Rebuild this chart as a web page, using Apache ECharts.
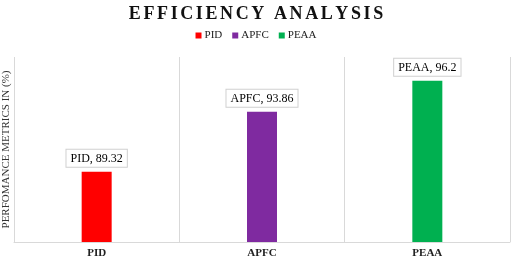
<!DOCTYPE html>
<html>
<head>
<meta charset="utf-8">
<script src="https://cdn.jsdelivr.net/npm/echarts@6/dist/echarts.min.js"></script>
<style>html,body{margin:0;padding:0;background:#fff}#c{width:512px;height:259px}</style>
</head>
<body>
<div id="c"></div>
<script>
// data
var categories = ['PID', 'APFC', 'PEAA'];
var values = [89.32, 93.86, 96.2];
var colors = ['#ff0000', '#7f2aa0', '#00b050'];
var titleText = 'EFFICIENCY ANALYSIS';

var chart = echarts.init(document.getElementById('c'));
var serif = '"Liberation Serif", "DejaVu Serif", serif';

// spaced-out title: each letter as its own rich token
var spaced = titleText.split('').map(function (ch) { return '{t|' + ch + '}'; }).join('');

var series = categories.map(function (name, i) {
  var d = categories.map(function (c, j) { return j === i ? values[i] : '-'; });
  return {
    type: 'bar',
    name: name,
    stack: 'all',
    barWidth: 30,
    data: d,
    itemStyle: { color: colors[i] },
    label: {
      show: true,
      position: 'top',
      distance: 5,
      formatter: '{a}, {c}',
      fontFamily: serif,
      fontSize: 12,
      color: '#000',
      backgroundColor: '#fff',
      borderColor: '#d0d0d0',
      borderWidth: 1,
      padding: [3, 4, 2, 4]
    }
  };
});

var option = {
  animation: false,
  title: {
    text: spaced,
    left: 'center',
    top: 0,
    textStyle: {
      rich: {
        t: { fontFamily: serif, fontSize: 18, fontWeight: 'bold', color: '#111', padding: [0, 1.3, 0, 1.3] }
      }
    }
  },
  legend: {
    top: 25,
    left: 'center',
    itemWidth: 6,
    itemHeight: 6,
    itemGap: 10,
    icon: 'rect',
    textStyle: { fontFamily: serif, fontSize: 11, color: '#222', padding: [0, 0, 0, -2] },
    data: categories
  },
  grid: { left: 14, right: 2, top: 57, bottom: 17, outerBoundsMode: 'none', containLabel: false },
  xAxis: {
    type: 'category',
    data: categories,
    boundaryGap: true,
    axisLine: { lineStyle: { color: '#d9d9d9' } },
    axisTick: { show: false },
    splitLine: { show: true, lineStyle: { color: '#d9d9d9' } },
    axisLabel: { fontFamily: serif, fontSize: 11, fontWeight: 'bold', color: '#222', margin: 6 }
  },
  yAxis: {
    type: 'value',
    min: 84,
    max: 98,
    name: 'PERFOMANCE METRICS IN (%)',
    nameLocation: 'middle',
    nameGap: 2,
    nameTextStyle: { fontFamily: serif, fontSize: 11, color: '#333' },
    axisLine: { show: false },
    axisTick: { show: false },
    axisLabel: { show: false },
    splitLine: { show: false }
  },
  series: series
};
chart.setOption(option);
</script>
</body>
</html>
